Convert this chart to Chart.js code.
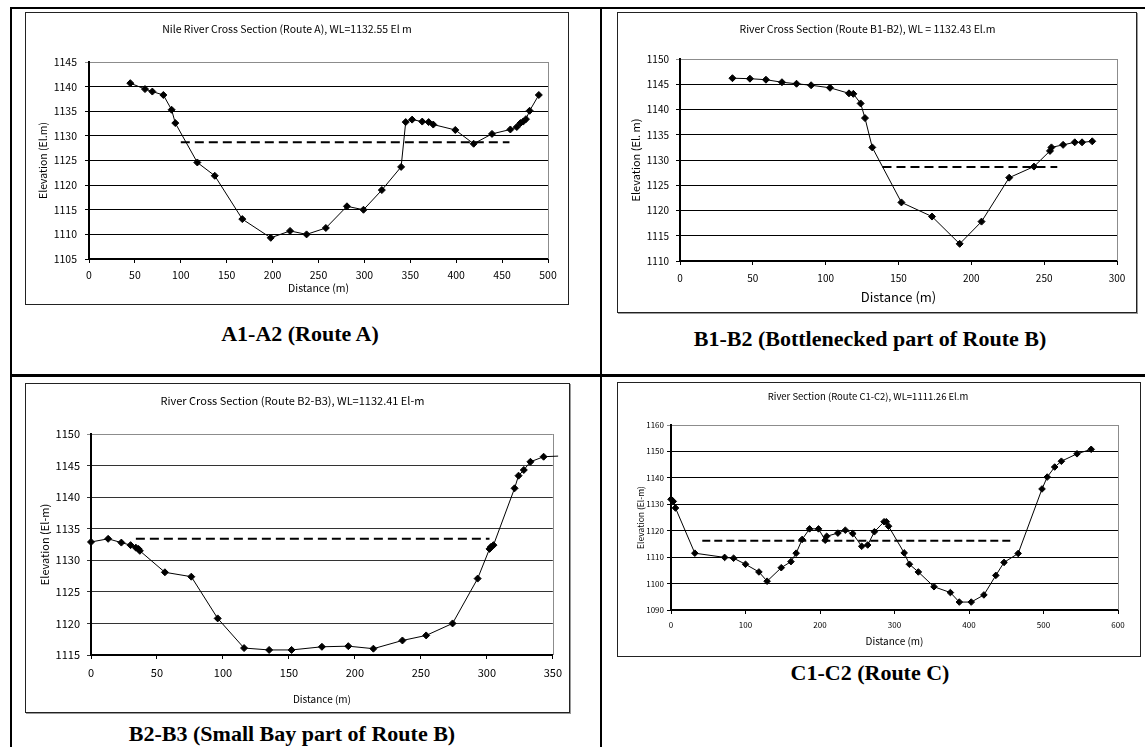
<!DOCTYPE html>
<html>
<head>
<meta charset="utf-8">
<script src="https://cdn.jsdelivr.net/npm/chart.js@4.4.1/dist/chart.umd.min.js"></script>
<style>
  html, body { margin: 0; padding: 0; background: #fff; }
  #page { position: relative; width: 1145px; height: 747px; overflow: hidden; background: #fff; }
  .rule { position: absolute; background: #000; }
  .frame { position: absolute; box-sizing: border-box; border: 1px solid #222; background: #fff; }
  .frame.shadow { box-shadow: 1px 1px 0 #9a9a9a; }
  .frame canvas { position: absolute; left: 0; top: 0; }
  .caption {
    position: absolute; white-space: nowrap; transform: translate(-50%, -50%);
    font-family: "Liberation Serif", "Times New Roman", serif; font-weight: bold; font-size: 22px; color: #000;
  }
</style>
</head>
<body>
<div id="page">
  <!-- table rules -->
  <div class="rule" style="left:10px; top:7px; width:1135px; height:2px;"></div>
  <div class="rule" style="left:10px; top:7px; width:2px; height:740px;"></div>
  <div class="rule" style="left:600px; top:7px; width:2px; height:740px;"></div>
  <div class="rule" style="left:10px; top:374px; width:1135px; height:3px;"></div>

  <div class="frame" id="frameA"><canvas id="chartA"></canvas></div>
  <div class="frame shadow" id="frameB"><canvas id="chartB"></canvas></div>
  <div class="frame shadow" id="frameC"><canvas id="chartC"></canvas></div>
  <div class="frame" id="frameD"><canvas id="chartD"></canvas></div>

  <div class="caption" style="left:300px; top:334px;">A1-A2 (Route A)</div>
  <div class="caption" style="left:870px; top:339px;">B1-B2 (Bottlenecked part of Route B)</div>
  <div class="caption" style="left:292px; top:734px;">B2-B3 (Small Bay part of Route B)</div>
  <div class="caption" style="left:870px; top:673px;">C1-C2 (Route C)</div>
</div>

<script>
// ---- Route A (A1-A2) ----
const routeA_dist = [45, 61, 69, 81, 90, 94, 118, 137, 167, 198, 219, 237, 258, 281, 299, 319, 340,
  345, 352, 363, 370, 375, 399, 419, 439, 459, 466, 470, 473, 476, 480, 490];
const routeA_elev = [1140.7, 1139.5, 1139.0, 1138.3, 1135.3, 1132.6, 1124.6, 1121.9, 1113.1, 1109.3,
  1110.7, 1110.0, 1111.3, 1115.7, 1115.0, 1119.0, 1123.7, 1132.8, 1133.3, 1132.9, 1132.8, 1132.3,
  1131.2, 1128.4, 1130.4, 1131.3, 1131.8, 1132.6, 1132.9, 1133.4, 1135.1, 1138.3];
const routeA_wlDist = [100, 458];
const routeA_wlElev = [1128.7, 1128.7];
const routeA_xTicks = [0, 500, 50];
const routeA_yTicks = [1105, 1145, 5];

// ---- Route B1-B2 ----
const routeB1_dist = [36, 48, 59, 70, 80, 90, 103, 116, 119, 124, 127, 132, 152, 173, 192, 207, 226,
  243, 254, 255, 263, 271, 276, 283];
const routeB1_elev = [1146.2, 1146.1, 1145.9, 1145.4, 1145.1, 1144.8, 1144.3, 1143.2, 1143.1, 1141.2,
  1138.3, 1132.5, 1121.6, 1118.8, 1113.4, 1117.8, 1126.5, 1128.7, 1131.8, 1132.5, 1133.0, 1133.5,
  1133.5, 1133.7];
const routeB1_wlDist = [139, 259];
const routeB1_wlElev = [1128.6, 1128.6];
const routeB1_xTicks = [0, 300, 50];
const routeB1_yTicks = [1110, 1150, 5];

// ---- Route B2-B3 ----
const routeB2_dist = [0, 13, 23, 30, 34, 36, 37, 56, 76, 96, 116, 135, 152, 175, 195, 214, 236, 254,
  274, 293, 302, 303, 305, 321, 324, 328, 333, 343, 354];
const routeB2_elev = [1132.9, 1133.4, 1132.8, 1132.4, 1132.0, 1131.8, 1131.5, 1128.1, 1127.4, 1120.8,
  1116.1, 1115.8, 1115.8, 1116.3, 1116.4, 1116.0, 1117.3, 1118.1, 1120.0, 1127.1, 1131.8, 1132.1,
  1132.4, 1141.4, 1143.4, 1144.3, 1145.6, 1146.4, 1146.5];
const routeB2_wlDist = [34, 302];
const routeB2_wlElev = [1133.4, 1133.4];
const routeB2_xTicks = [0, 350, 50];
const routeB2_yTicks = [1115, 1150, 5];

// ---- Route C1-C2 ----
const routeC_dist = [0, 3, 6, 32, 72, 84, 100, 118, 129, 148, 161, 168, 176, 186, 198, 207, 209, 224,
  234, 244, 256, 264, 273, 286, 289, 292, 313, 320, 332, 353, 375, 387, 403, 420, 436, 447, 466,
  498, 505, 515, 524, 545, 564];
const routeC_elev = [1131.9, 1131.1, 1128.6, 1111.5, 1109.9, 1109.6, 1107.3, 1104.4, 1100.9, 1106.0,
  1108.3, 1111.5, 1116.7, 1120.7, 1120.7, 1116.4, 1117.9, 1119.1, 1120.2, 1118.9, 1114.1, 1114.6,
  1119.6, 1123.4, 1123.4, 1121.7, 1111.6, 1107.3, 1104.4, 1098.8, 1096.6, 1093.0, 1093.0, 1095.7,
  1103.1, 1108.0, 1111.4, 1135.8, 1140.3, 1144.1, 1146.3, 1149.1, 1150.8];
const routeC_wlDist = [42, 458];
const routeC_wlElev = [1116.2, 1116.2];
const routeC_xTicks = [0, 600, 100];
const routeC_yTicks = [1090, 1160, 10];

// ---- text ----
const titles = {
  A: 'Nile River Cross Section (Route A), WL=1132.55 El m',
  B1: 'River Cross Section (Route B1-B2), WL = 1132.43 El.m',
  B2: 'River Cross Section (Route B2-B3), WL=1132.41 El-m',
  C: 'River Section (Route C1-C2), WL=1111.26 El.m'
};
const yTitles = { A: 'Elevation (El.m)', B1: 'Elevation (El. m)', B2: 'Elevation (El-m)', C: 'Elevation (El-m)' };
const xTitle = 'Distance (m)';

const FONT = '"Noto Sans CJK JP", "Liberation Sans", sans-serif';
Chart.defaults.font.family = FONT;
Chart.defaults.color = '#000';

// gray outline on the right side of the plot area
const plotEdge = {
  id: 'plotEdge',
  beforeDatasetsDraw(chart) {
    const { ctx, chartArea: a } = chart;
    ctx.save();
    ctx.strokeStyle = '#8c8c8c';
    ctx.lineWidth = 1;
    ctx.beginPath();
    ctx.moveTo(Math.round(a.right) + 0.5, a.top);
    ctx.lineTo(Math.round(a.right) + 0.5, a.bottom);
    ctx.stroke();
    ctx.restore();
  }
};

function toPoints(xs, ys) { return xs.map((x, i) => ({ x, y: ys[i] })); }

function section(key, L) {
  const frame = document.getElementById('frame' + key);
  const [fl, ft, fr, fb] = L.frame;
  frame.style.left = fl + 'px';
  frame.style.top = ft + 'px';
  frame.style.width = (fr - fl + 1) + 'px';
  frame.style.height = (fb - ft + 1) + 'px';
  const cw = fr - fl - 1, ch = fb - ft - 1;
  const ox = fl + 1, oy = ft + 1;
  const canvas = document.getElementById('chart' + key);
  canvas.width = cw; canvas.height = ch;
  canvas.style.width = cw + 'px'; canvas.style.height = ch + 'px';

  const [pl, pt, pr, pb] = L.plot;
  const plotLeft = pl - ox, plotTop = pt - oy, plotRight = pr - ox, plotBottom = pb - oy;
  const lh = 1.2;
  const tLH = L.titleSize * lh;
  const titleCenter = L.titleY - oy;
  const yLH = L.yTitleSize * lh;
  const xLH = L.xTitleSize * lh;

  const [xmin, xmax, xstep] = L.xTicks;
  const [ymin, ymax, ystep] = L.yTicks;

  const profile = {
    data: toPoints(L.dist, L.elev),
    borderColor: '#000',
    borderWidth: 1,
    pointStyle: 'rectRot',
    pointRadius: L.pointRadius,
    pointBackgroundColor: '#000',
    pointBorderColor: '#000',
    pointBorderWidth: 1,
    tension: 0,
    clip: false
  };
  const water = {
    data: toPoints(L.wlDist, L.wlElev),
    borderColor: '#000',
    borderWidth: 2,
    borderDash: L.dash,
    pointRadius: 0,
    tension: 0
  };

  new Chart(canvas, {
    type: 'line',
    data: { datasets: [profile, water] },
    options: {
      responsive: false,
      devicePixelRatio: 1,
      animation: false,
      events: [],
      layout: { padding: { left: 0, top: 0, right: cw - plotRight, bottom: 0 } },
      plugins: {
        legend: { display: false },
        tooltip: { enabled: false },
        title: {
          display: true,
          text: L.title,
          color: '#000',
          font: { family: FONT, size: L.titleSize, weight: 'normal', lineHeight: lh },
          padding: { top: titleCenter - tLH / 2, bottom: plotTop - titleCenter - tLH / 2 }
        }
      },
      scales: {
        x: {
          type: 'linear',
          min: xmin, max: xmax,
          afterFit: s => { s.height = ch - plotBottom; },
          ticks: {
            stepSize: xstep,
            padding: L.xPad,
            maxRotation: 0,
            autoSkip: false,
            callback: v => String(v),
            font: { family: FONT, size: L.tickSize }
          },
          grid: { drawOnChartArea: false, color: '#000', tickLength: 4 },
          border: { display: true, color: '#000', width: L.axisWidth },
          title: {
            display: true,
            text: xTitle,
            color: '#000',
            font: { family: FONT, size: L.xTitleSize, lineHeight: lh },
            padding: { top: 0, bottom: ch - (L.xTitleY - oy) - xLH / 2 }
          }
        },
        y: {
          type: 'linear',
          min: ymin, max: ymax,
          afterFit: s => { s.width = plotLeft; },
          ticks: {
            stepSize: ystep,
            padding: L.yPad,
            callback: v => String(v),
            font: { family: FONT, size: L.tickSize }
          },
          grid: {
            color: c => (c.tick && c.tick.value === ymax) ? '#8c8c8c' : L.gridColor,
            lineWidth: 1,
            tickLength: 4
          },
          border: { display: true, color: '#000', width: L.axisWidth },
          title: {
            display: true,
            text: L.yTitle,
            color: '#000',
            font: { family: FONT, size: L.yTitleSize, lineHeight: lh },
            padding: { top: (L.yTitleX - ox) - yLH / 2, bottom: 0 }
          }
        }
      }
    },
    plugins: [plotEdge]
  });
}

section('A', {
  frame: [25, 12, 568, 304], plot: [89, 62, 548, 259],
  titleY: 29, yTitleX: 43, xTitleY: 288,
  titleSize: 10.5, tickSize: 10.5, yTitleSize: 10.5, xTitleSize: 10.5,
  xPad: 6, yPad: 8, axisWidth: 2, gridColor: '#000', pointRadius: 3.5, dash: [9, 5],
  title: titles.A, yTitle: yTitles.A,
  dist: routeA_dist, elev: routeA_elev, wlDist: routeA_wlDist, wlElev: routeA_wlElev,
  xTicks: routeA_xTicks, yTicks: routeA_yTicks
});

section('B', {
  frame: [617, 12, 1136, 312], plot: [680, 59, 1117, 261],
  titleY: 29, yTitleX: 636, xTitleY: 297,
  titleSize: 10.5, tickSize: 10, yTitleSize: 11, xTitleSize: 13,
  xPad: 7, yPad: 7, axisWidth: 2, gridColor: '#000', pointRadius: 3.5, dash: [9, 5],
  title: titles.B1, yTitle: yTitles.B1,
  dist: routeB1_dist, elev: routeB1_elev, wlDist: routeB1_wlDist, wlElev: routeB1_wlElev,
  xTicks: routeB1_xTicks, yTicks: routeB1_yTicks
});

section('C', {
  frame: [25, 383, 569, 712], plot: [91, 434, 559, 655],
  titleY: 401, yTitleX: 45, xTitleY: 699,
  titleSize: 11, tickSize: 11, yTitleSize: 11, xTitleSize: 10,
  xPad: 7, yPad: 7, axisWidth: 2, gridColor: '#333', pointRadius: 3.5, dash: [9, 5],
  title: titles.B2, yTitle: yTitles.B2,
  dist: routeB2_dist, elev: routeB2_elev, wlDist: routeB2_wlDist, wlElev: routeB2_wlElev,
  xTicks: routeB2_xTicks, yTicks: routeB2_yTicks
});

section('D', {
  frame: [617, 382, 1140, 656], plot: [671, 425, 1118, 610],
  titleY: 396, yTitleX: 641, xTitleY: 641,
  titleSize: 9.5, tickSize: 8, yTitleSize: 8.5, xTitleSize: 10,
  xPad: 6, yPad: 3, axisWidth: 2, gridColor: '#000', pointRadius: 3.3, dash: [8, 4],
  title: titles.C, yTitle: yTitles.C,
  dist: routeC_dist, elev: routeC_elev, wlDist: routeC_wlDist, wlElev: routeC_wlElev,
  xTicks: routeC_xTicks, yTicks: routeC_yTicks
});
</script>
</body>
</html>
